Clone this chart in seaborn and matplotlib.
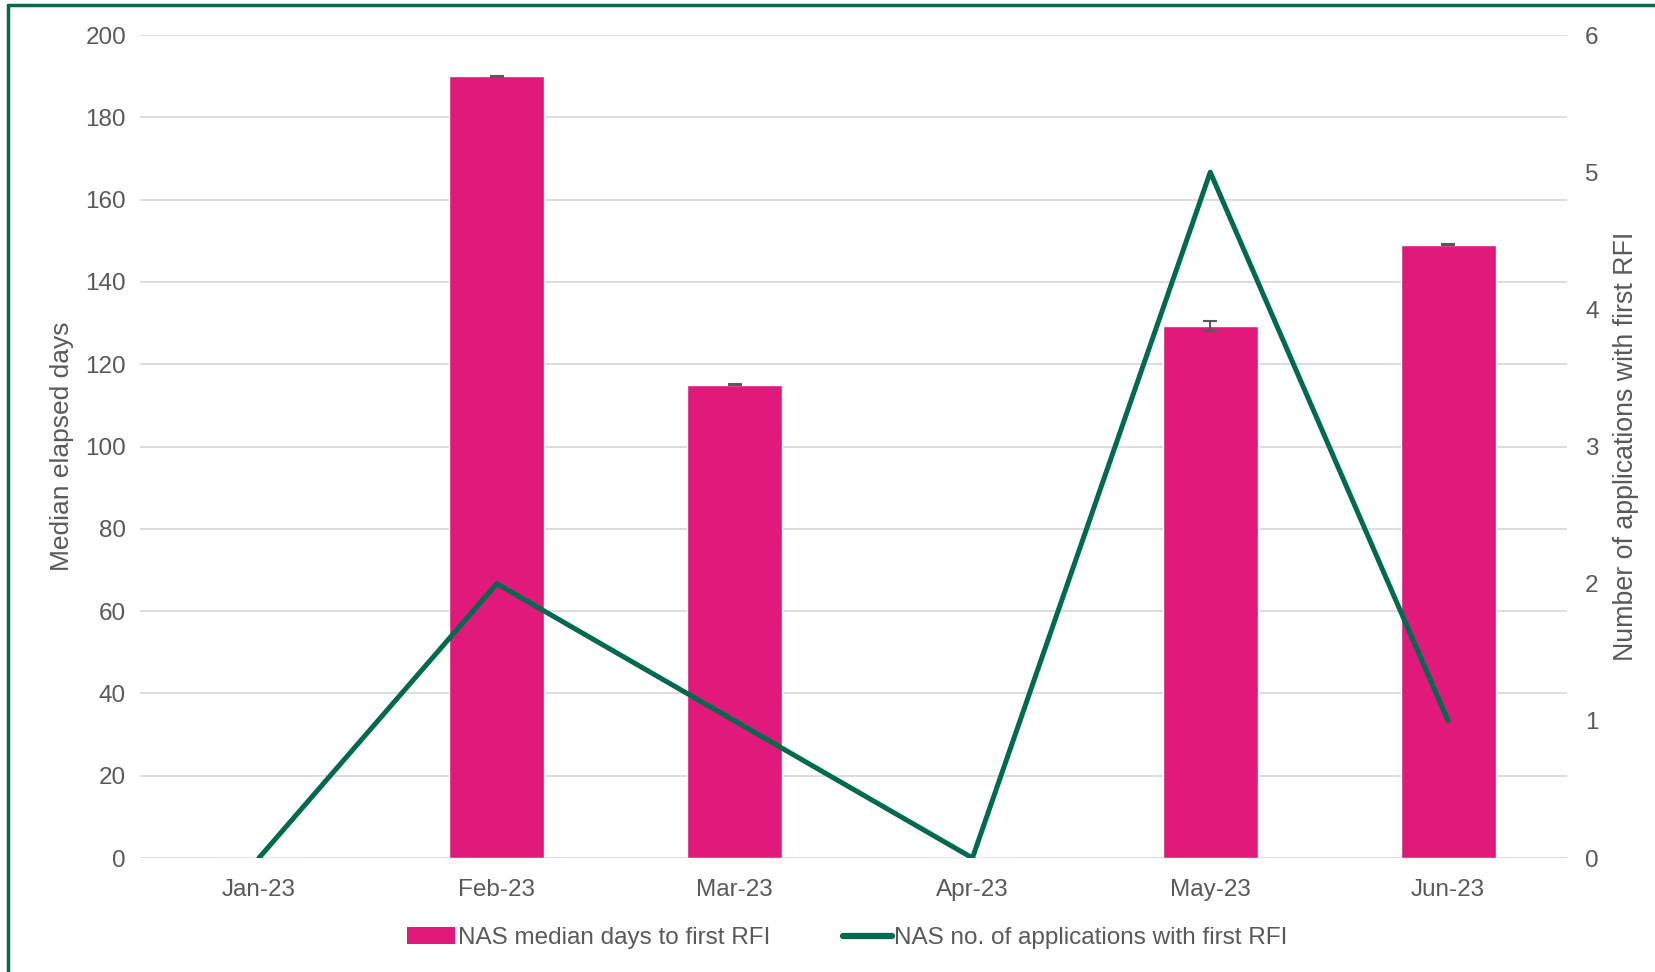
import numpy as np
import matplotlib.pyplot as plt
import pandas as pd
import seaborn as sns
from matplotlib.patches import Patch
from matplotlib.lines import Line2D

months = ['Jan-23', 'Feb-23', 'Mar-23', 'Apr-23', 'May-23', 'Jun-23']
median_days = [0, 190, 115, 0, 129.3, 149]
median_err = [0, 0.15, 0.15, 0, 1.3, 0.15]
num_apps = [0, 2, 1, 0, 5, 1]

pink = '#E0197A'
green = '#006A4E'
grey = '#595959'

sns.set_style('white')
plt.rcParams['font.family'] = ['Liberation Sans', 'DejaVu Sans']

data = pd.DataFrame({'month': months, 'days': median_days, 'apps': num_apps})

fig = plt.figure(figsize=(16.55, 9.72), dpi=100)
ax = fig.add_axes([140 / 1655, 1 - 858 / 972, 1427 / 1655, 823 / 972])

sns.barplot(x='month', y='days', data=data, color=pink, width=0.4,
            saturation=1, errorbar=None, ax=ax, zorder=2)
# small error bars on the bars that have values
pos = np.arange(len(months))
has = np.array(median_days) > 0
ax.errorbar(pos[has], np.array(median_days)[has], yerr=np.array(median_err)[has],
            fmt='none', ecolor=grey, elinewidth=1.5, capsize=5, capthick=1.5, zorder=3)

ax.set_ylim(0, 200)
ax.set_xlim(-0.5, 5.5)
ax.set_yticks(range(0, 201, 20))
ax.yaxis.grid(True, color='#D9D9D9', linewidth=1.3)
ax.set_axisbelow(True)
for s in ax.spines.values():
    s.set_visible(False)
ax.set_xlabel('')
ax.set_ylabel('Median elapsed days', fontsize=19, color=grey, labelpad=8)
ax.tick_params(axis='y', labelsize=17.5, labelcolor=grey, length=0, pad=10)
ax.tick_params(axis='x', labelsize=17.5, labelcolor=grey, length=0, pad=15)

ax2 = ax.twinx()
sns.lineplot(x=pos, y=num_apps, color=green, linewidth=3.6, ax=ax2,
             solid_capstyle='round')
ax2.set_ylim(0, 6)
ax2.set_yticks(range(0, 7))
for s in ax2.spines.values():
    s.set_visible(False)
ax2.set_ylabel('Number of applications with first RFI', fontsize=19.3, color=grey, labelpad=10)
ax2.tick_params(axis='y', labelsize=17.5, labelcolor=grey, length=0, pad=13)

handles = [Patch(facecolor=pink, edgecolor='none'),
           Line2D([0], [0], color=green, linewidth=4.5, solid_capstyle='round')]
labels = ['NAS median days to first RFI', 'NAS no. of applications with first RFI']
fig.legend(handles, labels, loc='center', bbox_to_anchor=(847 / 1655, 1 - 938 / 972),
           ncol=2, frameon=False, fontsize=17.5, labelcolor=grey,
           handlelength=2.0, handletextpad=0.1, columnspacing=3.0)

# frame on top and left edges
fig.add_artist(Line2D([8 / 1655, 8 / 1655], [0, 1 - 5 / 972], color=green, linewidth=2.5,
                      transform=fig.transFigure))
fig.add_artist(Line2D([8 / 1655, 1], [1 - 5 / 972, 1 - 5 / 972], color=green, linewidth=2.5,
                      transform=fig.transFigure))

fig.savefig('out.png', dpi=100)
